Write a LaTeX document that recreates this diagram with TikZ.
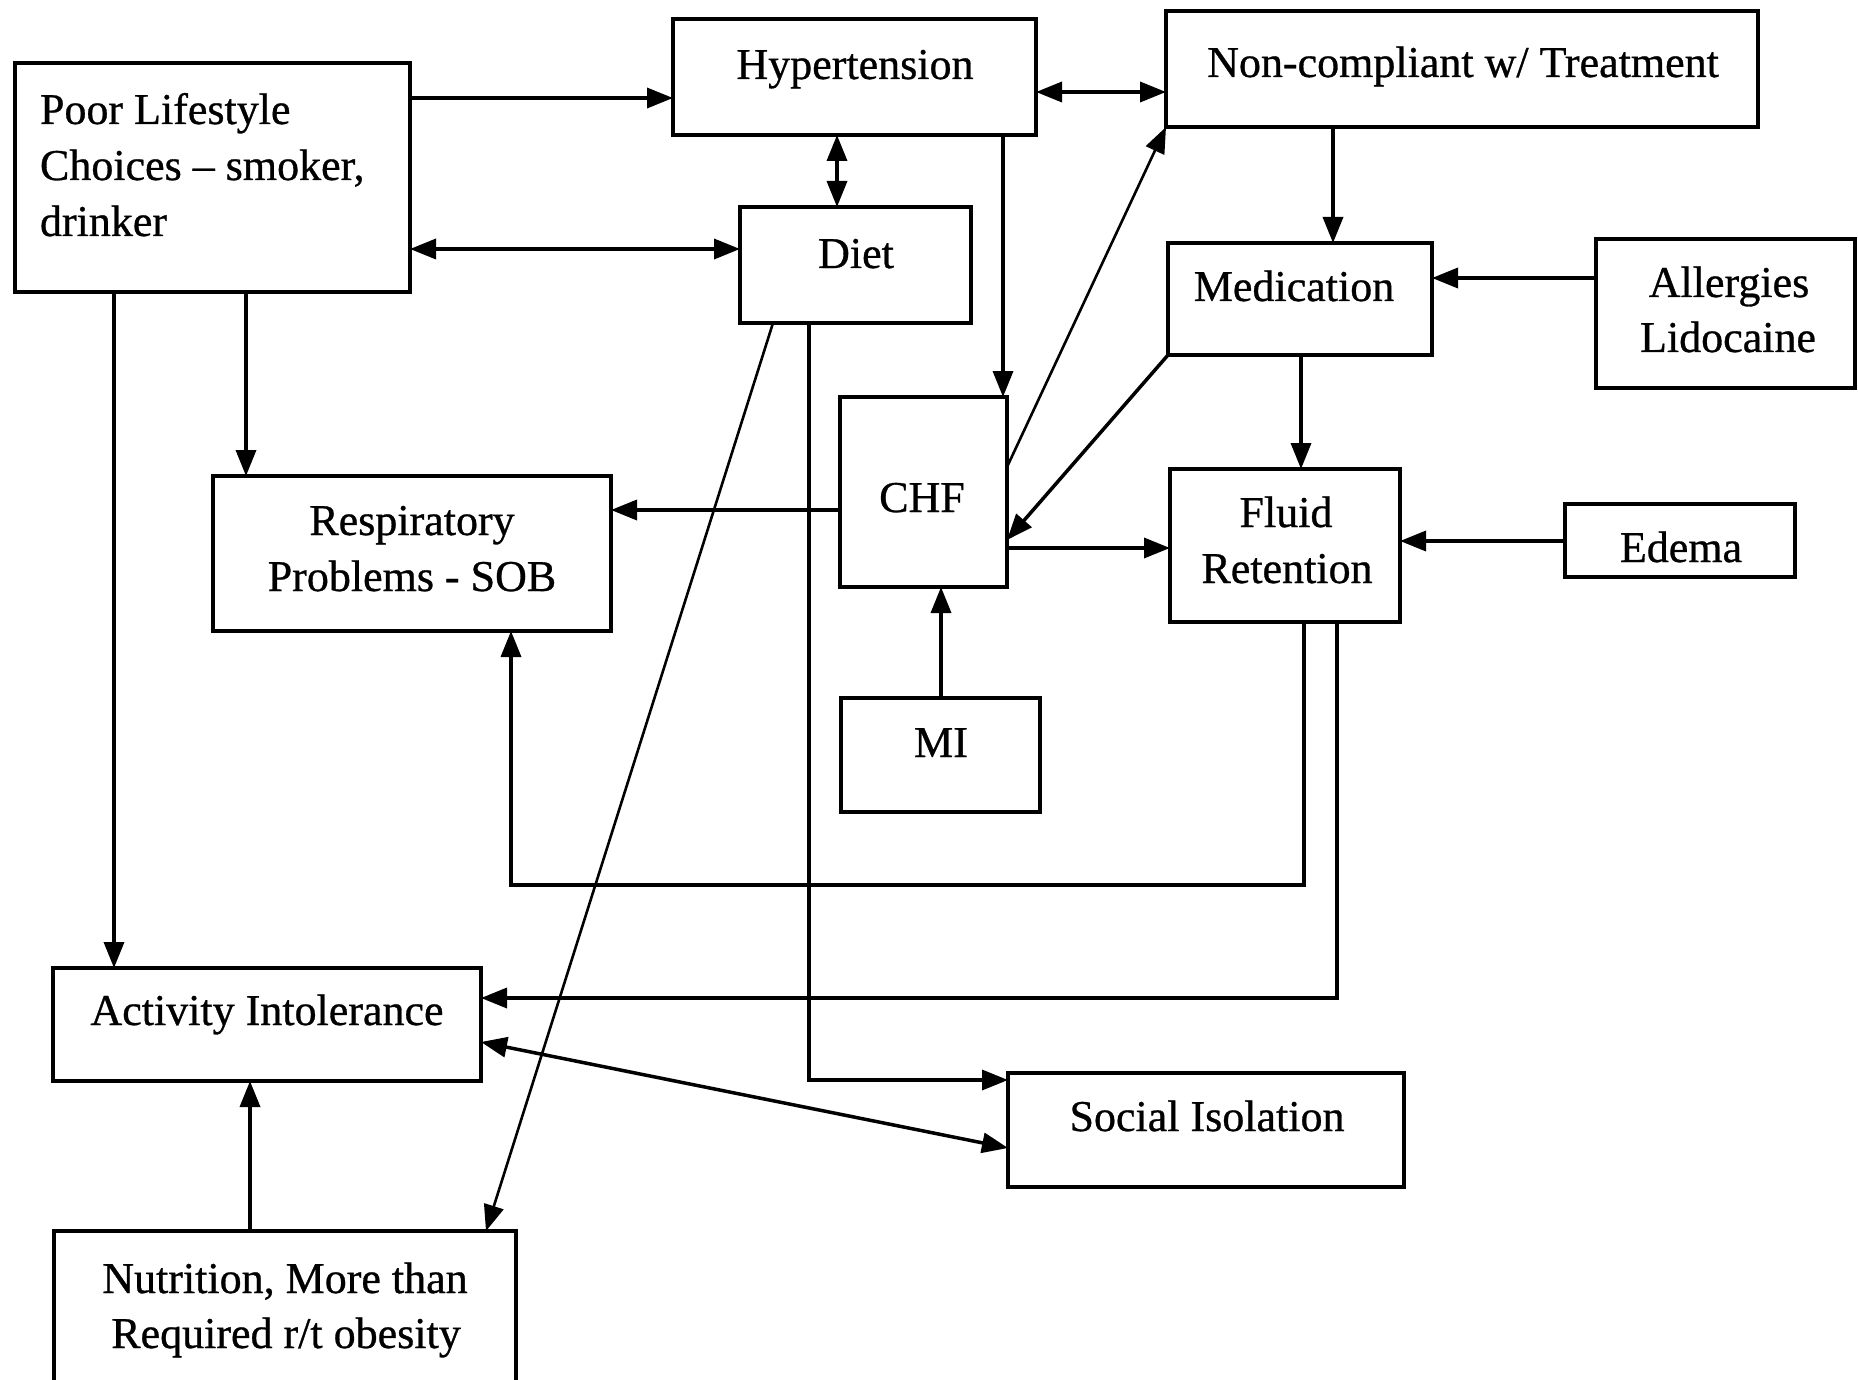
\documentclass[tikz,border=0pt]{standalone}
\usepackage{fontspec}
\setmainfont{Liberation Serif}[FakeBold=0.7]
\usetikzlibrary{arrows.meta}
\begin{document}
\begin{tikzpicture}[x=1pt,y=-1pt,
  box/.style={draw, line width=4pt, inner sep=0pt, outer sep=0pt},
  txt/.style={inner sep=0pt, outer sep=0pt, anchor=base, font=\fontsize{44}{56}\selectfont},
  tip/.tip={Triangle[length=26pt,width=20pt]},
  arr/.style={-tip, line width=3.5pt},
  darr/.style={tip-tip, line width=3.5pt},
  thin/.style={line width=2.6pt}]
\useasboundingbox (0,0) rectangle (1858,1380);
\fill[white] (0,0) rectangle (1858,1380);
\clip (0,0) rectangle (1858,1380);

% boxes
\node[box, minimum width=395pt, minimum height=229pt] (poor) at (212.5,177.5) {};
\node[box, minimum width=363pt, minimum height=116pt] (hyp) at (854.5,77) {};
\node[box, minimum width=592pt, minimum height=116pt] (nonc) at (1462,69) {};
\node[box, minimum width=231pt, minimum height=116pt] (diet) at (855.5,265) {};
\node[box, minimum width=264pt, minimum height=112pt] (med) at (1300,299) {};
\node[box, minimum width=259pt, minimum height=149pt] (all) at (1725,313.5) {};
\node[box, minimum width=167pt, minimum height=190pt] (chf) at (923.5,492) {};
\node[box, minimum width=398pt, minimum height=155pt] (resp) at (412,553.5) {};
\node[box, minimum width=230pt, minimum height=153pt] (fluid) at (1285,545.5) {};
\node[box, minimum width=230pt, minimum height=73pt] (edema) at (1680,540.5) {};
\node[box, minimum width=199pt, minimum height=114pt] (mi) at (940.5,755) {};
\node[box, minimum width=428pt, minimum height=113pt] (act) at (267,1024.5) {};
\node[box, minimum width=396pt, minimum height=114pt] (soc) at (1206,1130) {};
\node[box, minimum width=462pt, minimum height=169pt] (nut) at (285,1315.5) {};

% texts
\node[txt, anchor=base west] (poor1) at (40,124) {Poor Lifestyle};
\node[txt, anchor=base west] (poor2) at (40,180) {Choices – smoker,};
\node[txt, anchor=base west] (poor3) at (40,236) {drinker};
\node[txt] (hypt) at (855,79) {Hypertension};
\node[txt] (nonct) at (1463,77) {Non-compliant w/ Treatment};
\node[txt] (diett) at (856,268) {Diet};
\node[txt] (medt) at (1294,301) {Medication};
\node[txt] (all1) at (1729,297) {Allergies};
\node[txt] (all2) at (1728,352) {Lidocaine};
\node[txt] (chft) at (922,512) {CHF};
\node[txt] (resp1) at (412,535) {Respiratory};
\node[txt] (resp2) at (412,591) {Problems - SOB};
\node[txt] (fluid1) at (1286,527) {Fluid};
\node[txt] (fluid2) at (1287,583) {Retention};
\node[txt] (edemat) at (1681,562) {Edema};
\node[txt] (mit) at (941,757) {MI};
\node[txt] (actt) at (267,1025) {Activity Intolerance};
\node[txt] (soct) at (1207,1131) {Social Isolation};
\node[txt] (nut1) at (285,1293) {Nutrition, More than};
\node[txt] (nut2) at (286,1348) {Required r/t obesity};

% connectors
\draw[arr] (poor.east |- 0,98) -- (hyp.west |- 0,98);
\draw[darr] (hyp.east |- 0,92) -- (nonc.west |- 0,92);
\draw[darr] (hyp.south -| 837,0) -- (diet.north -| 837,0);
\draw[darr] (poor.east |- 0,249) -- (diet.west |- 0,249);
\draw[arr] (hyp.south -| 1003,0) -- (chf.north -| 1003,0);
\draw[arr] (poor.south -| 246,0) -- (resp.north -| 246,0);
\draw[arr] (poor.south -| 114,0) -- (act.north -| 114,0);
\draw[arr] (chf.west |- 0,510) -- (resp.east |- 0,510);
\draw[arr, thin] (chf.east |- 0,467) -- (nonc.south west);
\draw[arr] (med.south west) -- (chf.east |- 0,540);
\draw[arr] (chf.east |- 0,548) -- (fluid.west |- 0,548);
\draw[arr] (nonc.south -| 1333,0) -- (med.north -| 1333,0);
\draw[arr] (all.west |- 0,278) -- (med.east |- 0,278);
\draw[arr] (med.south -| 1301,0) -- (fluid.north -| 1301,0);
\draw[arr] (edema.west |- 0,541) -- (fluid.east |- 0,541);
\draw[arr] (mi.north -| 941,0) -- (chf.south -| 941,0);
\draw[arr] (fluid.south -| 1304,0) -- (1304,885) -| (resp.south -| 511,0);
\draw[arr] (fluid.south -| 1337,0) |- (act.east |- 0,998);
\draw[arr] (diet.south -| 809,0) |- (soc.west |- 0,1080);
\draw[arr, thin] (diet.south -| 773,0) -- (nut.north -| 486,0);
\draw[darr] (act.east |- 0,1042) -- (soc.west |- 0,1148);
\draw[arr] (nut.north -| 250,0) -- (act.south -| 250,0);
\end{tikzpicture}
\end{document}
